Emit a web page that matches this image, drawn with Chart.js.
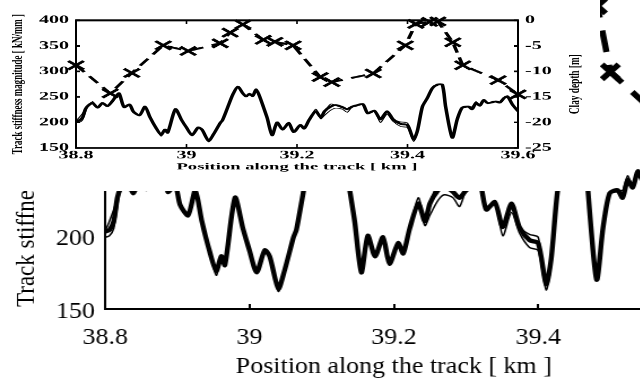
<!DOCTYPE html>
<html>
<head>
<meta charset="utf-8">
<script src="https://cdn.jsdelivr.net/npm/chart.js@4/dist/chart.umd.min.js"></script>
<style>
  html, body { margin: 0; padding: 0; background: #fff; overflow: hidden; width: 640px; height: 378px; }
  #stage { position: relative; width: 640px; height: 378px; overflow: hidden; background: #fff; }
  #mainCanvas { position: absolute; left: 0; top: -80px; transform: scaleX(1.13); transform-origin: 0 0; }
  #insetBox { position: absolute; left: 0; top: 0; width: 600px; height: 191px; background: #fff; }
  #insetCanvas { position: absolute; left: 0; top: 0; transform: scaleY(0.55); transform-origin: 0 0; }
</style>
</head>
<body>
<div id="stage">
  <canvas id="mainCanvas" width="673" height="470"></canvas>
  <div id="insetBox"><canvas id="insetCanvas" width="600" height="347"></canvas></div>
</div>
<script>
// Position along the track [km] for the stiffness realisations
const positions = [38.800, 38.806, 38.812, 38.817, 38.822, 38.830, 38.839, 38.848, 38.857, 38.866,
  38.872, 38.878, 38.887, 38.897, 38.904, 38.915, 38.925, 38.934, 38.945, 38.954,
  38.961, 38.966, 38.980, 38.991, 39.000, 39.010, 39.021, 39.028, 39.040, 39.049,
  39.061, 39.065, 39.074, 39.084, 39.093, 39.102, 39.108, 39.114, 39.120, 39.126,
  39.132, 39.139, 39.146, 39.155, 39.164, 39.174, 39.185, 39.194, 39.206, 39.213,
  39.222, 39.234, 39.243, 39.250, 39.261, 39.270, 39.282, 39.291, 39.300, 39.307,
  39.319, 39.328, 39.340, 39.351, 39.363, 39.374, 39.388, 39.400, 39.411, 39.418,
  39.427, 39.436, 39.445, 39.454, 39.463, 39.469, 39.481, 39.490, 39.499, 39.510,
  39.517, 39.524, 39.531, 39.538, 39.545, 39.560, 39.567, 39.575, 39.581, 39.590, 39.600];

// Track stiffness magnitude [kN/mm], three realisations
const stiffnessMain = [203, 204, 210, 226, 233, 238, 229, 238, 232, 242,
  251, 257, 230, 235, 221, 214, 231, 210, 189, 176,
  186, 180, 226, 205, 190, 175, 190, 186, 164, 177,
  199, 204, 228, 255, 270, 257, 251, 256, 252, 265,
  252, 231, 209, 175, 200, 186, 199, 181, 195, 188,
  205, 222, 210, 222, 231, 234, 230, 226, 231, 233,
  236, 218, 223, 206, 222, 206, 197, 195, 167, 184,
  231, 248, 267, 274, 274, 231, 170, 206, 229, 231,
  226, 238, 233, 244, 238, 241, 239, 248, 251, 235, 222];

const stiffnessLow = [199, 200, 205, 220, 233, 238, 229, 238, 232, 242,
  251, 257, 230, 235, 221, 214, 231, 210, 189, 173,
  186, 180, 226, 205, 190, 175, 190, 186, 162, 177,
  199, 204, 228, 255, 270, 257, 251, 256, 252, 265,
  252, 231, 209, 175, 200, 186, 199, 181, 195, 188,
  205, 222, 207, 214, 224, 228, 226, 220, 231, 233,
  236, 218, 223, 200, 216, 202, 192, 190, 163, 180,
  231, 248, 267, 274, 274, 231, 170, 206, 229, 231,
  226, 238, 233, 244, 238, 241, 239, 248, 251, 235, 222];

const stiffnessHigh = [203, 210, 218, 226, 233, 241, 229, 238, 232, 242,
  251, 257, 230, 235, 221, 214, 231, 210, 189, 176,
  186, 180, 226, 205, 190, 175, 190, 186, 164, 177,
  199, 204, 228, 255, 270, 257, 251, 256, 252, 262,
  252, 231, 209, 175, 200, 186, 199, 181, 195, 188,
  205, 226, 210, 222, 236, 234, 230, 226, 231, 233,
  236, 218, 223, 206, 222, 206, 201, 199, 167, 184,
  231, 248, 267, 274, 274, 231, 170, 206, 229, 231,
  231, 241, 233, 244, 238, 241, 239, 248, 251, 235, 222];

// Clay depth [m] at the survey points
const clayPositions = [38.800, 38.862, 38.901, 38.958, 39.003, 39.061, 39.079, 39.102, 39.139, 39.160,
  39.193, 39.242, 39.263, 39.338, 39.396, 39.415, 39.440, 39.455, 39.482, 39.500, 39.564, 39.600];
const clayDepth = [-8.8, -14.3, -10.3, -4.9, -6.0, -4.5, -2.4, -0.8, -3.8, -4.2,
  -4.9, -11.1, -12.1, -10.4, -4.9, -0.7, -0.3, -0.2, -4.3, -8.8, -11.7, -14.5];

// Axis ticks
const xTicks = [38.8, 39.0, 39.2, 39.4, 39.6];
const xTickLabels = ['38.8', '39', '39.2', '39.4', '39.6'];
const stiffTicks = [150, 200, 250, 300, 350, 400];
const stiffTickLabels = ['150', '200', '250', '300', '350', '400'];
const depthTicks = [-25, -20, -15, -10, -5, 0];
const depthTickLabels = ['-25', '-20', '-15', '-10', '-5', '0'];

const xTitle = 'Position along the track [ km ]';
const stiffTitle = 'Track stiffness magnitude [ kN/mm ]';
const depthTitle = 'Clay depth [m]';

const toPoints = (xs, ys) => xs.map((x, i) => ({ x: x, y: ys[i] }));

function setTicks(values) {
  return scale => { scale.ticks = values.map(v => ({ value: v })); };
}

function fitText(ctx, text, x, y, font, targetLen, rotate) {
  ctx.save();
  ctx.font = font;
  const w = ctx.measureText(text).width;
  ctx.translate(x, y);
  if (rotate) ctx.rotate(-Math.PI / 2);
  ctx.scale(targetLen / w, 1);
  ctx.textAlign = 'center';
  ctx.textBaseline = 'middle';
  ctx.fillStyle = '#000';
  ctx.fillText(text, 0, 0);
  ctx.restore();
}

function stiffnessSets(mainWidth, thinWidth) {
  return [
    { data: toPoints(positions, stiffnessMain), borderColor: '#000', borderWidth: mainWidth, pointRadius: 0, tension: 0.25, yAxisID: 'y' },
    { data: toPoints(positions, stiffnessLow), borderColor: '#000', borderWidth: thinWidth, pointRadius: 0, tension: 0.25, yAxisID: 'y' },
    { data: toPoints(positions, stiffnessHigh), borderColor: '#000', borderWidth: thinWidth, pointRadius: 0, tension: 0.25, yAxisID: 'y' }
  ];
}

// ---------- Large chart (background) ----------
const mainSerif = 'Liberation Serif, Times New Roman, serif';

const mainDecor = {
  id: 'mainDecor',
  afterDraw(chart) {
    const ctx = chart.ctx;
    const a = chart.chartArea;
    const xs = chart.scales.x;
    ctx.save();
    ctx.strokeStyle = '#000';
    ctx.lineWidth = 2;
    xTicks.forEach(v => {
      const px = Math.round(xs.getPixelForValue(v));
      ctx.beginPath();
      ctx.moveTo(px, a.bottom);
      ctx.lineTo(px, a.bottom - 5);
      ctx.stroke();
    });
    ctx.fillStyle = '#000';
    ctx.font = '23px ' + mainSerif;
    ctx.textAlign = 'center';
    ctx.textBaseline = 'alphabetic';
    ctx.fillText(xTitle, (a.left + a.right) / 2, 453);
    ctx.translate(24, 387);
    ctx.rotate(-Math.PI / 2);
    ctx.textAlign = 'left';
    ctx.textBaseline = 'middle';
    ctx.fillText(stiffTitle, 0, 0);
    ctx.restore();
  }
};

new Chart(document.getElementById('mainCanvas'), {
  type: 'line',
  data: {
    datasets: [
      { data: toPoints(clayPositions, clayDepth), yAxisID: 'yDepth', borderColor: '#000', borderWidth: 5.5,
        borderDash: [22, 13], borderDashOffset: 10, pointStyle: 'crossRot', pointRadius: 10.5, pointBorderWidth: 5.5,
        pointBorderColor: '#000', pointBackgroundColor: '#000', tension: 0 },
      ...stiffnessSets(4.4, 1.5)
    ]
  },
  options: {
    responsive: false, animation: false, devicePixelRatio: 1,
    layout: { padding: { top: 23, left: 0, right: 0, bottom: 0 } },
    plugins: { legend: { display: false }, tooltip: { enabled: false } },
    scales: {
      x: {
        type: 'linear', min: 38.8, max: 39.6,
        afterBuildTicks: setTicks(xTicks),
        afterFit: s => { s.height = 81; },
        grid: { display: false, drawTicks: false },
        border: { display: true, color: '#000', width: 2 },
        ticks: { padding: 15, color: '#000', maxRotation: 0, autoSkip: false,
          font: { family: mainSerif, size: 23 },
          callback: (v, i) => xTickLabels[i] }
      },
      y: {
        position: 'left', min: 150, max: 400,
        afterBuildTicks: setTicks(stiffTicks),
        afterFit: s => { s.width = 93; },
        grid: { display: false, drawTicks: false },
        border: { display: true, color: '#000', width: 2 },
        ticks: { padding: 9, labelOffset: 3, color: '#000', font: { family: mainSerif, size: 23 },
          callback: (v, i) => stiffTickLabels[i] }
      },
      yDepth: {
        position: 'right', min: -25, max: 0,
        afterBuildTicks: setTicks(depthTicks),
        afterFit: s => { s.width = 69; },
        grid: { display: false, drawTicks: false },
        border: { display: true, color: '#000', width: 2 },
        ticks: { padding: 9, color: '#000', font: { family: mainSerif, size: 23 },
          callback: (v, i) => depthTickLabels[i] }
      }
    }
  },
  plugins: [mainDecor]
});

// ---------- Inset chart ----------
const insetFont = 'Liberation Serif, Times New Roman, serif';

const insetDecor = {
  id: 'insetDecor',
  afterDraw(chart) {
    const ctx = chart.ctx;
    const a = chart.chartArea;
    const xs = chart.scales.x, ys = chart.scales.y, yd = chart.scales.yDepth;
    ctx.save();
    ctx.strokeStyle = '#000';
    // frame
    ctx.lineWidth = 3.6;
    ctx.beginPath();
    ctx.moveTo(a.left - 1, a.top); ctx.lineTo(a.right + 1, a.top);
    ctx.moveTo(a.left - 1, a.bottom); ctx.lineTo(a.right + 1, a.bottom);
    ctx.stroke();
    ctx.lineWidth = 2;
    ctx.beginPath();
    ctx.moveTo(a.left, a.top); ctx.lineTo(a.left, a.bottom);
    ctx.moveTo(a.right, a.top); ctx.lineTo(a.right, a.bottom);
    ctx.stroke();
    // inward tick marks
    ctx.lineWidth = 1.6;
    ctx.beginPath();
    xTicks.forEach(v => {
      const px = xs.getPixelForValue(v);
      ctx.moveTo(px, a.bottom); ctx.lineTo(px, a.bottom - 7);
      ctx.moveTo(px, a.top); ctx.lineTo(px, a.top + 7);
    });
    ctx.stroke();
    ctx.lineWidth = 3;
    ctx.beginPath();
    stiffTicks.forEach(v => {
      const py = ys.getPixelForValue(v);
      ctx.moveTo(a.left, py); ctx.lineTo(a.left + 4, py);
    });
    depthTicks.forEach(v => {
      const py = yd.getPixelForValue(v);
      ctx.moveTo(a.right, py); ctx.lineTo(a.right - 4, py);
    });
    ctx.stroke();
    ctx.restore();
    const midY = (a.top + a.bottom) / 2;
    fitText(ctx, stiffTitle, 18, midY, 'bold 15px ' + insetFont, 255, true);
    fitText(ctx, depthTitle, 575, midY, 'bold 15px ' + insetFont, 109, true);
    fitText(ctx, xTitle, (a.left + a.right) / 2, 304, 'bold 17px ' + insetFont, 241, false);
  }
};

new Chart(document.getElementById('insetCanvas'), {
  type: 'line',
  data: {
    datasets: [
      { data: toPoints(clayPositions, clayDepth), yAxisID: 'yDepth', borderColor: '#000', borderWidth: 3.6,
        borderDash: [15, 9], pointStyle: 'crossRot', pointRadius: 11, pointBorderWidth: 4,
        pointBorderColor: '#000', pointBackgroundColor: '#000', tension: 0, clip: false },
      ...stiffnessSets(3.6, 1.3)
    ]
  },
  options: {
    responsive: false, animation: false, devicePixelRatio: 1,
    layout: { padding: { top: 37, left: 0, right: 0, bottom: 0 } },
    plugins: { legend: { display: false }, tooltip: { enabled: false } },
    scales: {
      x: {
        type: 'linear', min: 38.8, max: 39.6,
        afterBuildTicks: setTicks(xTicks),
        afterFit: s => { s.height = 78; },
        grid: { display: false, drawTicks: false },
        border: { display: false },
        ticks: { padding: 2, color: '#000', maxRotation: 0, autoSkip: false,
          font: { family: insetFont, size: 20, weight: 'bold' },
          callback: (v, i) => xTickLabels[i] }
      },
      y: {
        position: 'left', min: 150, max: 400,
        afterBuildTicks: setTicks(stiffTicks),
        afterFit: s => { s.width = 76; },
        grid: { display: false, drawTicks: false },
        border: { display: false },
        ticks: { padding: 7, color: '#000', font: { family: insetFont, size: 20, weight: 'bold' },
          callback: (v, i) => stiffTickLabels[i] }
      },
      yDepth: {
        position: 'right', min: -25, max: 0,
        afterBuildTicks: setTicks(depthTicks),
        afterFit: s => { s.width = 82; },
        grid: { display: false, drawTicks: false },
        border: { display: false },
        ticks: { padding: 7, color: '#000', font: { family: insetFont, size: 20, weight: 'bold' },
          callback: (v, i) => depthTickLabels[i] }
      }
    }
  },
  plugins: [insetDecor]
});
</script>
</body>
</html>
